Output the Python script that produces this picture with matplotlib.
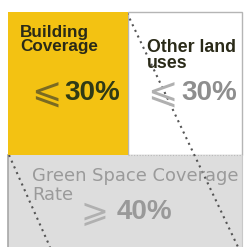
import matplotlib
matplotlib.use("Agg")
import matplotlib.pyplot as plt
from matplotlib.patches import Rectangle

# donnees
labels = ["Building\nCoverage", "Other land\nuses", "Green Space Coverage\nRate"]
signs = ["\u2a7d", "\u2a7d", "\u2a7e"]
values = [30, 30, 40]

plt.rcParams['font.family'] = ['Liberation Sans', 'DejaVu Sans']

fig = plt.figure(figsize=(2.49, 2.47), dpi=100)
ax = fig.add_axes([0, 0, 1, 1])
ax.set_xlim(0, 249)
ax.set_ylim(247, 0)
ax.axis('off')

YELLOW = '#f3c212'
GRAY_BG = '#dddddd'
GRAY_TXT = '#8e8e8e'
DARK = '#2a2a18'

# blocs (coordonnees pixel, origine en haut a gauche)
ax.add_patch(Rectangle((128, 12), 114, 143, facecolor='white', edgecolor='#b5b5b5', lw=1.0, zorder=1))
ax.add_patch(Rectangle((8, 155), 234, 95, facecolor=GRAY_BG, edgecolor='none', zorder=1))
ax.plot([8, 8], [155, 247], color='#a8a8a8', lw=1.2, zorder=2)
ax.plot([242, 242], [155, 247], color='#c8c8c8', lw=0.8, zorder=2)
ax.plot([128, 242], [155, 155], color='#b8b8b8', lw=0.8, ls=(0, (1, 1.5)), zorder=2)

# pointilles obliques
ax.plot([127, 238], [13, 247], color='#555555', lw=1.5, ls=(0, (1, 2)), zorder=3)
ax.plot([9, 50], [155, 247], color='#555555', lw=1.5, ls=(0, (1, 2)), zorder=3)

ax.add_patch(Rectangle((8, 12), 120, 143, facecolor=YELLOW, edgecolor='none', zorder=4))

# textes
ax.text(20, 25, labels[0], fontsize=12.3, fontweight='bold', color=DARK,
        va='top', ha='left', linespacing=0.95, zorder=5)
ax.text(31, 104, signs[0], fontsize=26, color='#7a6a22',
        va='baseline', ha='left', family=['DejaVu Sans'], zorder=5)
ax.text(64, 93, f"{values[0]}%", fontsize=20, fontweight='bold', color='#2f3a16',
        va='center', ha='left', zorder=5)

ax.text(147, 39, labels[1], fontsize=12.8, fontweight='bold', color=DARK,
        va='top', ha='left', linespacing=0.9, zorder=5)
ax.text(147, 104, signs[1], fontsize=26, color='#b0b0b0',
        va='baseline', ha='left', family=['DejaVu Sans'], zorder=5)
ax.text(181, 93, f"{values[1]}%", fontsize=20, fontweight='semibold', color=GRAY_TXT,
        va='center', ha='left', zorder=5)

# libelle vert sur deux lignes, une par texte
g1, g2 = labels[2].split("\n")
ax.text(32, 181, g1, fontsize=12.9, color='#9a9a9a', va='baseline', ha='left',
        family=['DejaVu Sans'], zorder=5)
ax.text(32, 200, g2, fontsize=12.9, color='#9a9a9a', va='baseline', ha='left',
        family=['DejaVu Sans'], zorder=5)
ax.text(81, 222, signs[2], fontsize=24, color='#b0b0b0',
        va='baseline', ha='left', family=['DejaVu Sans'], zorder=5)
ax.text(117, 212, f"{values[2]}%", fontsize=20, fontweight='bold', color='#999999',
        va='center', ha='left', zorder=5)

fig.savefig('out.png', dpi=100)
